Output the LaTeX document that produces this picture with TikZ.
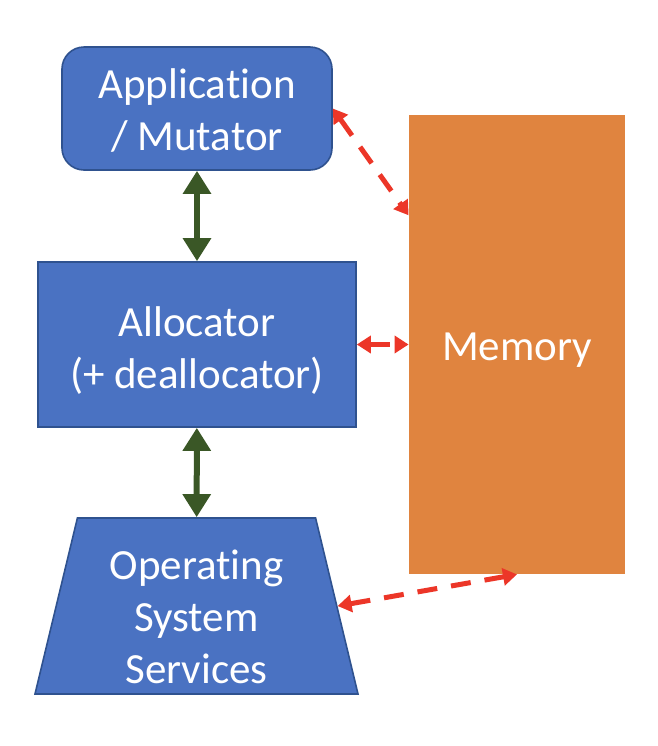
\documentclass[tikz,border=0pt]{standalone}
\usepackage{fontspec}
\setmainfont{Carlito}[Ligatures=NoCommon]
\usepackage{tikz}
\usetikzlibrary{arrows.meta,positioning,shapes.geometric}
\definecolor{boxblue}{HTML}{4A72C2}
\definecolor{boxline}{HTML}{2F528F}
\definecolor{memorange}{HTML}{E0843F}
\definecolor{arrgreen}{HTML}{3A5726}
\definecolor{arrred}{HTML}{EC3628}

\begin{document}
\begin{tikzpicture}[
  x=0.5pt,y=-0.5pt,
  font=\fontsize{21.5}{26}\selectfont,
  txt/.style={text=white,align=center,inner sep=0pt},
  box/.style={draw=boxline,line width=0.8pt,fill=boxblue,inner sep=2pt},
  appbox/.style={box,rounded corners=11pt,minimum width=135pt,minimum height=61.5pt},
  allocbox/.style={box,minimum width=159pt,minimum height=82.5pt},
  osbox/.style={box,trapezium,trapezium angle=79.9,trapezium stretches=true,minimum width=161.5pt,minimum height=88pt},
  membox/.style={fill=memorange,minimum width=108pt,minimum height=229.5pt,inner sep=2pt},
  gar/.style={{Triangle[length=11.5pt,width=13.5pt]}-{Triangle[length=11.5pt,width=13.5pt]},arrgreen,line width=3pt},
  rar/.style={{Triangle[length=7pt,width=8.5pt]}-{Triangle[length=7pt,width=8.5pt]},arrred,line width=2.5pt,dash pattern=on 10pt off 7pt}]

 \useasboundingbox (0,0) rectangle (658,746);

 % ---- left column ----
 \node[appbox,label={[txt,yshift=-1pt]center:{Application\\/ Mutator}}] (app) at (197,108.5) {};
 \node[allocbox,label={[txt,yshift=-3pt]center:{Allocator\\(+ deallocator)}}] (alloc) at (197,344.5) {};
 \node[osbox,label={[txt,yshift=-5.5pt]center:{Operating\\System\\Services}}] (os) at (196.5,606) {};
 \draw[gar] (app) -- (alloc);
 \draw[gar] (alloc) -- (os);

 % ---- memory ----
 \node[membox,label={[txt,yshift=-3pt]center:Memory}] (mem) at (517,344.5) {};
 \draw[rar] (app.east) -- (mem.130);
 \draw[rar] (alloc.east) -- (mem.west);
 \draw[rar] (os.east) -- (mem.south);
\end{tikzpicture}
\end{document}
